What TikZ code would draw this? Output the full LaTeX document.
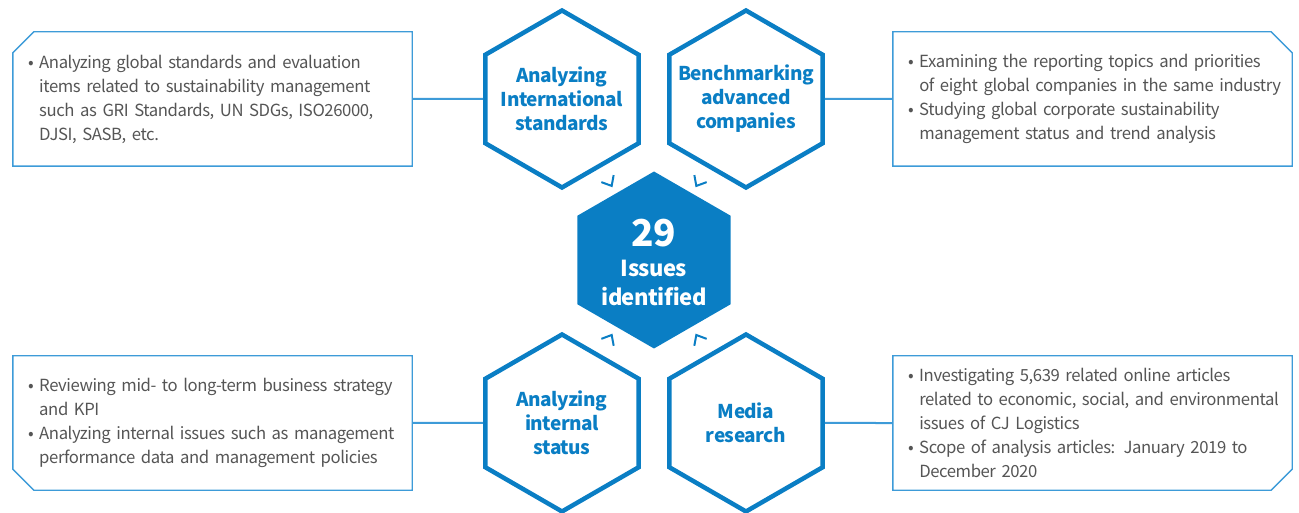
\documentclass[tikz,border=0pt]{standalone}
\usepackage{fontspec}
\setmainfont{Noto Sans CJK KR}[LetterSpace=-2.5]
\usetikzlibrary{positioning,shapes.geometric,calc}
\definecolor{hexblue}{HTML}{0A7EC4}
\definecolor{boxblue}{HTML}{3D9BD8}
\definecolor{txtgray}{HTML}{555555}
\tikzset{
  hexo/.style={regular polygon, regular polygon sides=6, shape border rotate=30,
    minimum size=177pt, inner sep=-40pt, draw=hexblue, line width=4.5pt, text=hexblue,
    align=center, font=\bfseries\fontsize{19}{24}\selectfont},
  hexc/.style={hexo, fill=hexblue, draw=none, text=white,
    font=\bfseries\fontsize{22}{29}\selectfont},
  infobox/.style={rectangle, minimum width=399pt, minimum height=134pt, inner sep=0pt,
    text width=369pt, align=left, text=txtgray, font=\fontsize{16.7}{24}\selectfont},
  boxline/.style={draw=boxblue, line width=1.4pt},
  link/.style={draw=boxblue, line width=2pt},
  chev/.style={draw=hexblue, line width=2pt},
}
\newcommand{\bul}[1]{\mbox{\textbullet\ #1}}
\newcommand{\ind}[1]{\mbox{\phantom{\textbullet\ }#1}}

\begin{document}
\begin{tikzpicture}[x=1pt, y=1pt, on grid]
  \useasboundingbox (0,0) rectangle (1299,512);
  \node[hexc] (c) at (654,252)
    {\rule{0pt}{33pt}{\fontsize{37}{37}\selectfont 29}\\[1pt]Issues\\identified};
  \node[hexo, above left=161pt and 92pt of c] (ai) {Analyzing\\International\\standards};
  \node[hexo, above right=161pt and 92pt of c] (ba) {Benchmarking\\advanced\\companies};
  \node[hexo, below left=163pt and 92pt of c] (is) {Analyzing\\internal\\status};
  \node[hexo, below right=163pt and 92pt of c] (mr) {Media\\research};
  \node[infobox, left=349.5pt of ai] (b1)
    {\bul{Analyzing global standards and evaluation}\\
     \ind{items related to sustainability management}\\
     \ind{such as GRI Standards, UN SDGs, ISO26000,}\\
     \ind{DJSI, SASB, etc.}};
  \node[infobox, right=346.5pt of ba] (b2)
    {\bul{Examining the reporting topics and priorities}\\
     \ind{of eight global companies in the same industry}\\
     \bul{Studying global corporate sustainability}\\
     \ind{management status and trend analysis}};
  \node[infobox, left=349.5pt of is] (b3)
    {\bul{Reviewing mid- to long-term business strategy}\\
     \ind{and KPI}\\
     \bul{Analyzing internal issues such as management}\\
     \ind{performance data and management policies}};
  \node[infobox, right=346.5pt of mr] (b4)
    {\bul{Investigating 5,639 related online articles}\\
     \ind{related to economic, social, and environmental}\\
     \ind{issues of CJ Logistics}\\
     \bul{Scope of analysis articles: January 2019 to}\\
     \ind{December 2020}};
  \draw[boxline] ([xshift=21pt]b1.north west) -- (b1.north east) -- (b1.south east)
    -- (b1.south west) -- ([yshift=-21pt]b1.north west) -- cycle;
  \draw[boxline] ([xshift=-21pt]b2.north east) -- (b2.north west) -- (b2.south west)
    -- (b2.south east) -- ([yshift=-21pt]b2.north east) -- cycle;
  \draw[boxline] ([xshift=21pt]b3.south west) -- (b3.south east) -- (b3.north east)
    -- (b3.north west) -- ([yshift=21pt]b3.south west) -- cycle;
  \draw[boxline] ([xshift=-21pt]b4.south east) -- (b4.south west) -- (b4.north west)
    -- (b4.north east) -- ([yshift=21pt]b4.south east) -- cycle;
  \draw[link] (b1) -- (ai);
  \draw[link] (ba) -- (b2);
  \draw[link] (b3) -- (is);
  \draw[link] (mr) -- (b4);
  \coordinate (p1) at ($(ai)!.54!(c)$);
  \coordinate (p2) at ($(ba)!.54!(c)$);
  \coordinate (p3) at ($(is)!.54!(c)$);
  \coordinate (p4) at ($(mr)!.54!(c)$);
  \draw[chev] ($(p1)!11pt!140:(c)$) -- (p1) -- ($(p1)!11pt!-140:(c)$);
  \draw[chev] ($(p2)!11pt!140:(c)$) -- (p2) -- ($(p2)!11pt!-140:(c)$);
  \draw[chev] ($(p3)!11pt!140:(c)$) -- (p3) -- ($(p3)!11pt!-140:(c)$);
  \draw[chev] ($(p4)!11pt!140:(c)$) -- (p4) -- ($(p4)!11pt!-140:(c)$);
\end{tikzpicture}
\end{document}
